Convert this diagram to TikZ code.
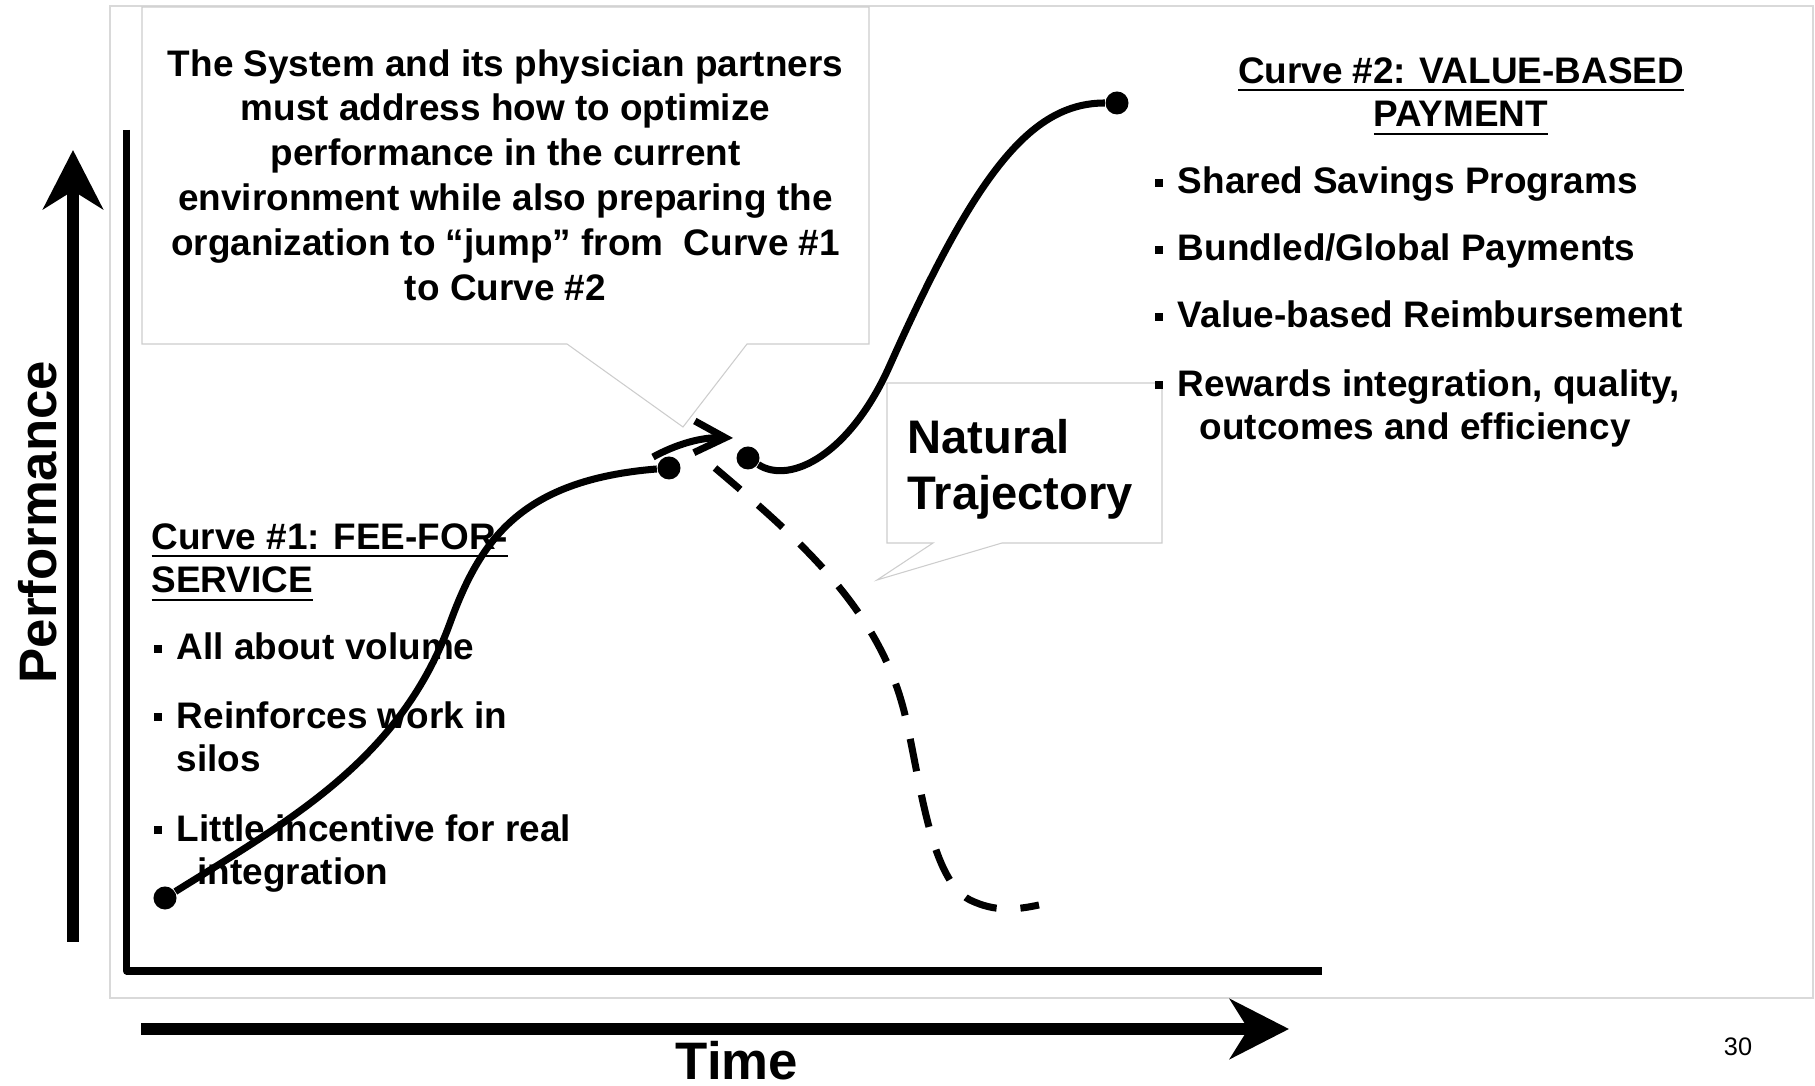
\documentclass[tikz,border=0pt]{standalone}
\usepackage{fontspec}
\setmainfont{Liberation Sans}
\usepackage{tikz}
\usetikzlibrary{arrows.meta, positioning}
\definecolor{framegray}{RGB}{217,217,217}
\definecolor{calloutgray}{RGB}{205,205,205}
% square list bullet and heading underline
\newcommand{\sqbullet}{\rule[2pt]{2.3pt}{2.3pt}\hspace{4.3pt}}
\newcommand{\hdrule}[1]{\setbox0\hbox{#1}\rlap{\rule[-2.35pt]{\wd0}{0.7pt}}\box0}
\tikzset{
  curve/.style={line width=2pt},
  dashcurve/.style={line width=2pt, dash pattern=on 9.4pt off 6.8pt},
  enddot/.style={circle, fill=black, inner sep=0pt, minimum size=0.23cm},
  bigarrow/.style={line width=3.4pt, -{Stealth[length=16.8pt, width=17pt, inset=5.2pt]}},
  callout/.style={draw=calloutgray, line width=0.3pt, fill=white},
  bodytext/.style={font=\bfseries\fontsize{10.5}{12.5}\selectfont, inner sep=0pt},
  listitem/.style={bodytext, anchor=base west, align=left},
  heading/.style={bodytext, align=left}
}

\begin{document}
\begin{tikzpicture}[x=0.01cm, y=-0.01cm]
  \useasboundingbox (0,0) rectangle (1815,1086);

  % slide frame
  \draw[framegray, line width=0.3pt] (110,6) rectangle (1813,998);

  % callout boxes
  \draw[callout] (142,7) -- (869,7) -- (869,344) -- (747,344) -- (683,427)
    -- (567,344) -- (142,344) -- cycle;
  \node[bodytext, align=center, font=\bfseries\fontsize{10.5}{12.75}\selectfont]
    (jumpnote) at (505.5,175)
    {The System and its physician partners\\must address how to optimize\\
     performance in the current\\environment while also preparing the\\
     organization to ``jump'' from~ Curve \#1\\to Curve \#2};
  \draw[callout] (887,383) -- (1162,383) -- (1162,543) -- (1002,543) -- (877,580)
    -- (933,543) -- (887,543) -- cycle;
  \node[anchor=base west, align=left, inner sep=0pt,
    font=\bfseries\fontsize{13.4}{16.2}\selectfont] (natlabel) at (907,510)
    {Natural\\Trajectory};

  % axes
  \draw[line width=2pt, line join=round] (126.5,130) -- (126.5,971) -- (1322,971);

  % big axis arrows
  \coordinate (perfbot) at (73,942);
  \coordinate (perftop) at (73,150);
  \coordinate (timeleft) at (141,1029);
  \coordinate (timeright) at (1289,1029);
  \draw[bigarrow] (perfbot) -- (perftop);
  \draw[bigarrow] (timeleft) -- (timeright);
  \node[rotate=90, anchor=base, inner sep=0pt,
    font=\bfseries\fontsize{15}{18}\selectfont] (perflabel) at (56,522) {Performance};
  \node[anchor=base, inner sep=0pt,
    font=\bfseries\fontsize{15}{18}\selectfont] (timelabel) at (737,1080) {Time};

  % curve #1 text (multi-line nodes sit on their last baseline)
  \node[heading, anchor=base west] (c1head) at (151,593)
    {\hdrule{Curve \#1: FEE-FOR-}\\\hdrule{SERVICE}};
  \node[listitem] (c1a) at (153,660) {\sqbullet All about volume};
  \node[listitem] (c1b) at (153,772) {\sqbullet Reinforces work in\\\hspace*{6.6pt}silos};
  \node[listitem] (c1c) at (153,885) {\sqbullet Little incentive for real\\\hspace*{12.5pt}integration};

  % curve #2 text
  \node[heading, align=center, anchor=base] (c2head) at (1461,127)
    {\hdrule{Curve \#2: VALUE-BASED}\\\hdrule{PAYMENT}};
  \node[listitem] (c2a) at (1154,194) {\sqbullet Shared Savings Programs};
  \node[listitem] (c2b) at (1154,261) {\sqbullet Bundled/Global Payments};
  \node[listitem] (c2c) at (1154,328) {\sqbullet Value-based Reimbursement};
  \node[listitem] (c2d) at (1154,440) {\sqbullet Rewards integration, quality,\\\hspace*{12.8pt}outcomes and efficiency};

  % the two S-curves
  \node[enddot] (c1start) at (165,898) {};
  \node[enddot] (c1end) at (669,468) {};
  \node[enddot] (c2start) at (748,458) {};
  \node[enddot] (c2end) at (1117,103) {};
  \draw[curve] (c1start) .. controls (290,820) and (400,760) .. (450,623)
    .. controls (480,541) and (520,480) .. (c1end);
  \draw[curve] (c2start) .. controls (790,485) and (850,455) .. (890,365)
    .. controls (975,175) and (1030,103) .. (c2end);

  % jump arrow and natural decline
  \coordinate (jumpfrom) at (653,457);
  \coordinate (jumpto) at (733,438);
  \draw[curve, -{Straight Barb[length=8.8pt, width=9pt]}] (jumpfrom)
    .. controls (675,445) and (700,437) .. (jumpto);
  \coordinate (natfrom) at (715,468);
  \coordinate (natto) at (1039,905);
  \draw[dashcurve] (natfrom) .. controls (800,540) and (880,610) .. (905,715)
    .. controls (920,778) and (930,880) .. (970,900)
    .. controls (995,912) and (1015,910) .. (natto);

  % page number
  \node[anchor=base, inner sep=0pt, font=\fontsize{7.2}{8}\selectfont] (pagenum)
    at (1738,1055) {30};
\end{tikzpicture}
\end{document}
